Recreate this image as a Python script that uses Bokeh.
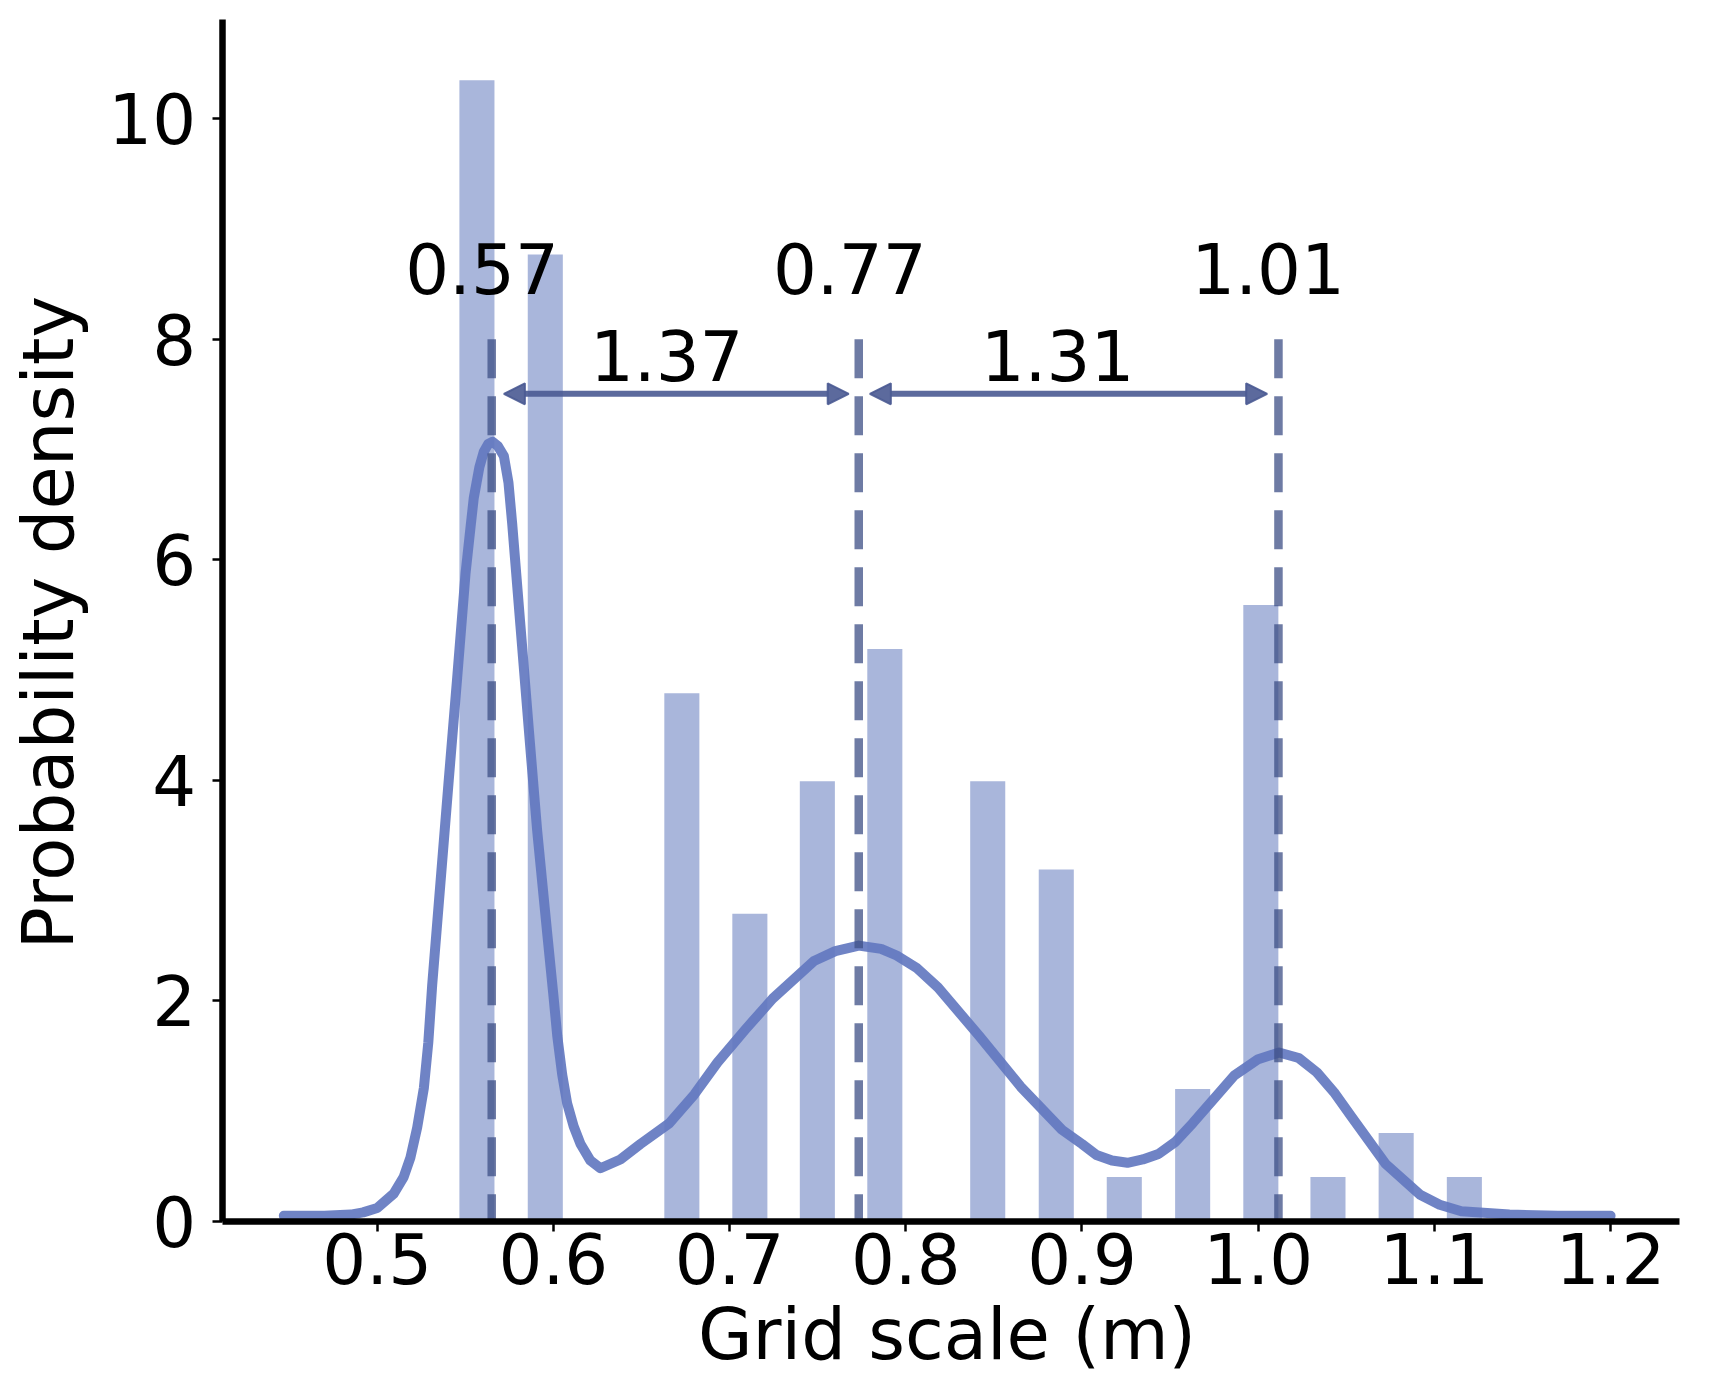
import math
from bokeh.plotting import figure
from bokeh.models import (Range1d, FixedTicker, PrintfTickFormatter, Label,
                          Arrow, NormalHead, ColumnDataSource)
from bokeh.core.properties import value
from bokeh.embed import file_html
from bokeh.resources import INLINE

# ---------------- data ----------------
bar_centers = [0.5566, 0.5954, 0.6729, 0.7115, 0.7498, 0.7881, 0.8465,
               0.8854, 0.9240, 0.9628, 1.0015, 1.0396, 1.0783, 1.1170]
bar_heights = [10.35, 8.77, 4.79, 2.79, 3.99, 5.19, 3.99,
               3.19, 0.40, 1.20, 5.59, 0.40, 0.80, 0.40]

kde_x = [0.447, 0.470, 0.485, 0.492, 0.500, 0.5094, 0.515, 0.5189, 0.5227,
         0.5265, 0.5290, 0.5312, 0.5359, 0.5406, 0.5454, 0.5501, 0.5530,
         0.5548, 0.5580, 0.5605, 0.5630, 0.5655, 0.5685, 0.5719, 0.5745,
         0.5766, 0.5813, 0.5860, 0.5908, 0.5965, 0.6000, 0.6022, 0.6050,
         0.6078, 0.6115, 0.6154, 0.6210, 0.6267, 0.6380, 0.6494, 0.6659,
         0.6800, 0.6931, 0.7090, 0.7245, 0.7479, 0.7600, 0.7733, 0.7860,
         0.7948, 0.8060, 0.8183, 0.8417, 0.8652, 0.8886, 0.9000, 0.9082,
         0.9170, 0.9258, 0.9345, 0.9434, 0.9530, 0.9629, 0.9863, 1.0000,
         1.0118, 1.0230, 1.0333, 1.0430, 1.0528, 1.0723, 1.0919, 1.1030,
         1.1153, 1.1426, 1.1700, 1.2000]
kde_y = [0.05, 0.05, 0.06, 0.08, 0.12, 0.25, 0.40, 0.58, 0.85,
         1.21, 1.62, 2.14, 3.07, 4.00, 4.93, 5.87, 6.30,
         6.56, 6.84, 6.98, 7.05, 7.07, 7.03, 6.94, 6.70,
         6.33, 5.40, 4.47, 3.54, 2.61, 2.05, 1.68, 1.33,
         1.07, 0.86, 0.70, 0.55, 0.48, 0.56, 0.70, 0.89,
         1.15, 1.44, 1.74, 2.02, 2.36, 2.45, 2.50, 2.47,
         2.41, 2.30, 2.12, 1.68, 1.22, 0.83, 0.70, 0.60,
         0.55, 0.53, 0.56, 0.61, 0.72, 0.89, 1.32, 1.47,
         1.53, 1.48, 1.35, 1.17, 0.95, 0.52, 0.24, 0.15,
         0.09, 0.06, 0.05, 0.05]

peak_x = [0.5650, 0.7733, 1.0115]
peak_top = [8.0, 8.0, 8.0]
peak_labels = ["0.57", "0.77", "1.01"]
peak_label_x = [0.5595, 0.7682, 1.0056]
peak_label_y = [8.64, 8.64, 8.64]

ratio_labels = ["1.37", "1.31"]
ratio_label_x = [0.6643, 0.8861]
ratio_label_y = [7.85, 7.85]
arrow_x0 = [0.5719, 0.7796]
arrow_x1 = [0.7676, 1.0051]
arrow_y = [7.505, 7.505]

x_ticks = [0.5, 0.6, 0.7, 0.8, 0.9, 1.0, 1.1, 1.2]
y_ticks = [0, 2, 4, 6, 8, 10]
x_axis_span = (0.412, 1.239)
y_axis_span = (0.0, 10.9)
x_title = "Grid scale (m)"
y_title = "Probability density"

# ---------------- styling ----------------
FONT = "DejaVu Sans"
FS = "69px"
TITLE_FS = "70.5px"
BAR_C = "#a9b6db"
KDE_C = "#6378c0"
DASH_C = "#3d4f85"
ARROW_C = "#4a5a92"

# the frame fills the whole canvas; axes sit at fixed data positions
p = figure(width=1718, height=1376, output_backend="svg", toolbar_location=None,
           x_range=Range1d(0.28621, 1.26124), y_range=Range1d(-1.4087, 11.0730),
           min_border_left=0, min_border_right=0, min_border_top=0,
           min_border_bottom=0, title=None)
p.outline_line_color = None
p.background_fill_color = "white"
p.border_fill_color = "white"
p.xgrid.visible = False
p.ygrid.visible = False

for ax in (p.xaxis[0], p.yaxis[0]):
    ax.axis_line_width = 6.5
    ax.axis_line_color = "black"
    ax.major_tick_line_width = 2.5
    ax.major_tick_line_color = "black"
    ax.major_tick_out = 10
    ax.major_tick_in = 0
    ax.minor_tick_line_color = None
    ax.major_label_text_font = FONT
    ax.major_label_text_font_size = FS
    ax.major_label_text_color = "black"

p.xaxis[0].fixed_location = y_axis_span[0]
p.xaxis[0].bounds = x_axis_span
p.xaxis[0].ticker = FixedTicker(ticks=x_ticks)
p.xaxis[0].formatter = PrintfTickFormatter(format="%.1f")
p.xaxis[0].major_label_standoff = 2
p.yaxis[0].fixed_location = x_axis_span[0]
p.yaxis[0].bounds = y_axis_span
p.yaxis[0].ticker = FixedTicker(ticks=y_ticks)
p.yaxis[0].major_label_standoff = 16

# bars
p.vbar(x=bar_centers, top=bar_heights, bottom=0, width=0.0199,
       fill_color=BAR_C, line_color=None)

# kde curve
p.line(kde_x, kde_y, line_color=KDE_C, line_width=10, line_alpha=0.92,
       line_join="round", line_cap="round")

# dashed peak markers (dash pattern starts at top)
p.segment(x0=peak_x, y0=peak_top, x1=peak_x, y1=[0] * len(peak_x),
          line_color=DASH_C, line_alpha=0.75, line_width=8.5,
          line_dash="39 18")

# double arrows
asrc = ColumnDataSource(dict(x0=arrow_x0, x1=arrow_x1, y=arrow_y))
p.add_layout(Arrow(x_start="x0", y_start="y", x_end="x1", y_end="y", source=asrc,
                   line_color=ARROW_C, line_width=6, line_alpha=0.9,
                   start=NormalHead(size=21, fill_color=ARROW_C, line_color=ARROW_C,
                                    fill_alpha=0.9, line_alpha=0.9, line_width=2),
                   end=NormalHead(size=21, fill_color=ARROW_C, line_color=ARROW_C,
                                  fill_alpha=0.9, line_alpha=0.9, line_width=2)))

# labels
p.text(x=peak_label_x, y=peak_label_y, text=peak_labels,
       text_font=value(FONT), text_font_size=value(FS), text_color="black",
       text_align="center", text_baseline="alphabetic")
p.text(x=ratio_label_x, y=ratio_label_y, text=ratio_labels,
       text_font=value(FONT), text_font_size=value(FS), text_color="black",
       text_align="center", text_baseline="alphabetic")

# axis titles
p.add_layout(Label(x=0.8234, y=-1.03, text=x_title, text_font=FONT,
                   text_font_size=TITLE_FS, text_color="black", text_align="center",
                   text_baseline="alphabetic"))
p.add_layout(Label(x=0.3140, y=5.43, text=y_title, text_font=FONT,
                   text_font_size=TITLE_FS, text_color="black", text_align="center",
                   text_baseline="alphabetic", angle=math.pi / 2))

open("out.html", "w").write(file_html(p, INLINE))
